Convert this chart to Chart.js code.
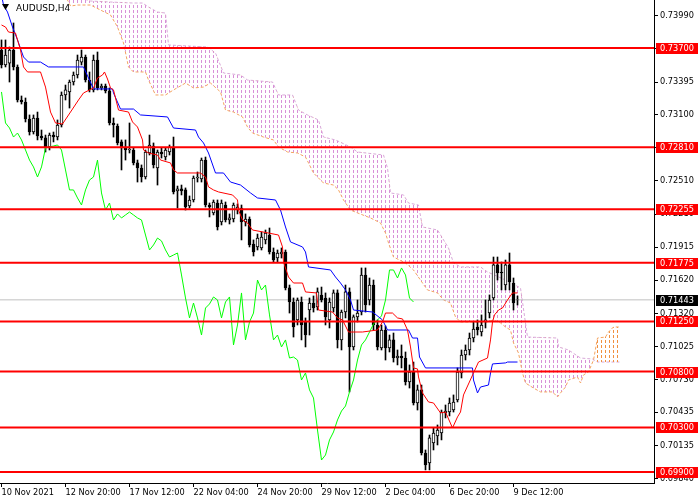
<!DOCTYPE html>
<html><head><meta charset="utf-8">
<script src="https://cdn.jsdelivr.net/npm/chart.js@4.4.1/dist/chart.umd.min.js"></script>
<style>html,body{margin:0;padding:0;background:#fff}canvas{display:block}</style>
</head><body>
<canvas id="c" width="700" height="500" style="width:700px;height:500px"></canvas>
<script>
// ---- data (AUDUSD H4) ----
const symbolTitle = "AUDUSD,H4";
const xTickIdx = [0,16,32,48,64,80,96,112,128];
const xTickLabels = ["10 Nov 2021","12 Nov 20:00","17 Nov 12:00","22 Nov 04:00","24 Nov 20:00","29 Nov 12:00","2 Dec 04:00","6 Dec 20:00","9 Dec 12:00"];
const yTicks = [0.73990,0.73695,0.73395,0.73100,0.72805,0.72510,0.72210,0.71915,0.71620,0.71320,0.71025,0.70730,0.70435,0.70135,0.69840];
const levels = [0.73700,0.72810,0.72255,0.71775,0.71250,0.70800,0.70300,0.69900];
const bidPrice = 0.71443;

const opens = [.73682,.73548,.73565,.73682,.73530,.73234,.73216,.73064,.72947,.73073,
.72911,.72894,.72813,.72920,.72902,.73010,.73279,.73306,.73395,.73458,
.73574,.73619,.73413,.73324,.73592,.73342,.73359,.73315,.73028,.73001,
.72858,.72804,.72786,.72786,.72670,.72625,.72544,.72759,.72822,.72625,
.72768,.72723,.72768,.72804,.72419,.72437,.72428,.72284,.72338,.72535,
.72526,.72696,.72293,.72222,.72311,.72141,.72293,.72159,.72168,.72248,
.72266,.72141,.72168,.71944,.71917,.71908,.71980,.72024,.71872,.71818,
.71854,.71872,.71550,.71424,.71263,.71424,.71245,.71352,.71415,.71379,
.71487,.71460,.71263,.71370,.71505,.71084,.71334,.71514,.71021,.71290,
.71334,.71666,.71442,.71576,.71218,.71012,.71173,.71012,.71084,.70922,
.70940,.70922,.70707,.70797,.70519,.70636,.70071,.69981,.70161,.70224,
.70250,.70430,.70438,.70456,.70546,.70788,.70949,.70994,.71101,.71200,
.71155,.71245,.71325,.71460,.71756,.71693,.71576,.71756,.71594,.71442];
const highs = [.73772,.73772,.73709,.73924,.73548,.73270,.73252,.73100,.73100,.73126,
.72965,.72920,.72938,.72947,.73055,.73306,.73368,.73413,.73485,.73637,
.73682,.73637,.73485,.73637,.73664,.73377,.73377,.73342,.73073,.73019,
.72876,.72876,.73028,.72804,.72696,.72652,.72786,.72920,.72849,.72786,
.72804,.72804,.72831,.72902,.72463,.72472,.72446,.72374,.72553,.72589,
.72714,.72723,.72311,.72338,.72338,.72338,.72320,.72213,.72311,.72302,
.72293,.72213,.72186,.71980,.72033,.72051,.72069,.72087,.71908,.71890,
.71908,.71890,.71576,.71460,.71460,.71469,.71281,.71460,.71478,.71550,
.71558,.71505,.71460,.71532,.71532,.71352,.71576,.71550,.71308,.71442,
.71729,.71729,.71639,.71621,.71263,.71218,.71209,.71128,.71146,.70994,
.71039,.70976,.70860,.70886,.70680,.70680,.70098,.70232,.70295,.70322,
.70456,.70501,.70564,.70591,.70833,.70994,.71039,.71146,.71245,.71263,
.71308,.71442,.71487,.71827,.71827,.71782,.71800,.71863,.71639,.71478];
const lows = [.73521,.73530,.73395,.73503,.73216,.73198,.73037,.72920,.72929,.72876,
.72876,.72768,.72786,.72858,.72876,.72992,.73234,.73162,.73368,.73431,
.73548,.73395,.73306,.73306,.73324,.73324,.73297,.73010,.72902,.72831,
.72607,.72696,.72759,.72652,.72499,.72499,.72526,.72741,.72625,.72472,
.72714,.72696,.72741,.72392,.72266,.72383,.72248,.72266,.72320,.72499,
.72499,.72275,.72186,.72204,.72069,.72114,.72141,.72123,.72141,.72213,
.71980,.72105,.71917,.71836,.71890,.71890,.71944,.71854,.71782,.71782,
.71818,.71532,.71325,.71110,.71218,.71084,.71021,.71128,.71334,.71352,
.71424,.71218,.71191,.71334,.71012,.70994,.71281,.70618,.70994,.71245,
.71308,.71334,.71397,.71173,.70994,.70994,.70904,.70976,.70886,.70860,
.70833,.70680,.70653,.70501,.70456,.70053,.69919,.69919,.70098,.70143,
.70188,.70385,.70403,.70438,.70528,.70743,.70904,.70949,.71066,.71128,
.71119,.71191,.71281,.71442,.71621,.71532,.71532,.71532,.71352,.71397];
const closes = [.73548,.73637,.73682,.73530,.73234,.73216,.73064,.72947,.73073,.72911,
.72894,.72813,.72920,.72902,.73010,.73279,.73324,.73395,.73458,.73592,
.73619,.73413,.73324,.73592,.73342,.73359,.73315,.73028,.73010,.72849,
.72804,.72786,.72795,.72670,.72625,.72544,.72768,.72831,.72652,.72768,
.72750,.72786,.72813,.72410,.72437,.72419,.72275,.72338,.72535,.72544,
.72696,.72293,.72275,.72320,.72096,.72311,.72159,.72177,.72293,.72275,
.72141,.72168,.71935,.71872,.71997,.72006,.72042,.71872,.71800,.71863,
.71872,.71550,.71424,.71200,.71442,.71218,.71128,.71415,.71370,.71514,
.71442,.71290,.71424,.71505,.71084,.71334,.71514,.71021,.71290,.71325,
.71666,.71397,.71576,.71218,.71021,.71173,.71012,.71084,.70922,.70940,
.70922,.70707,.70797,.70519,.70636,.70071,.69964,.70206,.70250,.70277,
.70438,.70447,.70519,.70528,.70797,.70949,.70994,.71101,.71182,.71173,
.71218,.71263,.71442,.71756,.71684,.71684,.71756,.71603,.71415,.71443];

// Tenkan-sen (red) vertices: bar position / price
const tenkanX = [0,1,1.75,3.5,4.75,5.5,6.5,9.75,11,12.25,13.5,15.25,17.25,19.25,20.5,23,24,25.25,25.75,26.5,
27.25,28,29.25,31.75,32.75,34,35.25,35.5,36.75,39,39.75,42.25,43,44,49.75,51,51.75,53,54.25,57.75,
59,59.25,60.25,61.5,62.75,66.75,69.25,70.25,70.5,71.75,73,75.25,76,78.75,79.25,82.75,84,85.25,86.75,90.25,
94,95.25,96,97.75,99,100.25,101.5,102.25,103,104,104.25,105.25,106.75,108,109.75,111,112.75,114,114.75,115.5,
118,119.25,121.5,122.25,122.75,123.25,124.25,125.25,126.5,127.75,129];
const tenkanY = [.73906,.73888,.73843,.73834,.73682,.73530,.73485,.73485,.73350,.73126,
.73028,.73019,.73126,.73234,.73297,.73342,.73431,.73458,.73485,.73422,
.73342,.73324,.73144,.73126,.73037,.72992,.72876,.72786,.72759,.72741,
.72696,.72670,.72607,.72580,.72580,.72544,.72455,.72428,.72410,.72383,
.72338,.72248,.72159,.72132,.72069,.72042,.72024,.71917,.71782,.71648,
.71594,.71594,.71514,.71505,.71352,.71334,.71281,.71263,.71155,.71155,
.71173,.71245,.71325,.71325,.71281,.71272,.71173,.71021,.70833,.70824,
.70752,.70609,.70528,.70519,.70430,.70438,.70295,.70394,.70438,.70591,
.70788,.70886,.70922,.71084,.71245,.71308,.71352,.71370,.71442,.71505,.71505];

// Kijun-sen (blue) vertices
const kijunX = [0,0.5,1.5,2.75,4,5.5,6.75,9.75,11.75,20.5,21.75,23,27.75,28,29.75,33,34.75,41.5,43,48.5,
49.25,50.5,51.75,53.5,55.5,57.25,59.75,62.25,64,68.5,69.75,71,72.25,75.25,76,76.75,82.25,83.5,84.75,86,
87.25,88,92.75,95.25,96.5,101.75,102.75,104,104.5,106,117.75,118,119,119.75,121.75,122.25,122.75,126,126.5,129];
const kijunY = [.74175,.74085,.74022,.73888,.73772,.73619,.73574,.73574,.73530,.73530,
.73431,.73333,.73333,.73297,.73153,.73153,.73100,.73082,.72983,.72965,
.72902,.72849,.72759,.72580,.72580,.72499,.72472,.72401,.72356,.72338,
.72248,.72096,.71962,.71917,.71872,.71738,.71711,.71648,.71594,.71532,
.71442,.71352,.71334,.71263,.71173,.71173,.71101,.71101,.70931,.70833,
.70833,.70725,.70609,.70662,.70680,.70788,.70869,.70878,.70886,.70886];

// Chikou span (lime), one value per bar from bar 0
const chikou = [.73306,.73028,.72983,.72902,.72938,.72876,.72786,.72696,.72634,.72544,
.72634,.72804,.72813,.72822,.72831,.72786,.72607,.72428,.72428,.72356,
.72293,.72428,.72517,.72544,.72696,.72401,.72248,.72311,.72159,.72213,
.72177,.72204,.72230,.72204,.72177,.72159,.72024,.71890,.71935,.71997,
.71971,.71890,.71827,.71845,.71863,.71666,.71460,.71281,.71415,.71281,
.71128,.71370,.71406,.71469,.71442,.71281,.71424,.71469,.71039,.71218,
.71505,.71084,.71245,.71325,.71621,.71532,.71576,.71308,.71084,.71128,
.71021,.71084,.70922,.70931,.70904,.70725,.70788,.70636,.70564,.70277,
.70008,.70053,.70188,.70259,.70367,.70447,.70492,.70618,.70725,.70904,
.71039,.71084,.71155,.71227,.71263,.71299,.71442,.71711,.71711,.71639,
.71729,.71666,.71460,.71424];

// Senkou span A (sandy brown) vertices
const spanAX = [15.25,17.25,19,22.25,24.75,27.25,29,30.5,31.75,33,36,36.75,38.5,41,43,46,48,50.5,52.25,54.75,
56,58,60.25,61.5,62.75,65.5,68,69.25,71.5,74,76,76.75,78,80.5,83,84.25,85.5,87.25,89,92.25,
94.75,96,96.75,98,101,103,105.25,106.5,109,110.5,112.25,113.5,114.75,118,120.5,123,124.75,126,127.25,128,
129.25,130.25,131,133,134.75,137.75,139,139.75,141,141.75,144,144.75,145.5,146.75,148,149,151,151.75,153,154.75];
const spanAY = [.74220,.74076,.74085,.74085,.74040,.73996,.73888,.73745,.73530,.73485,
.73485,.73413,.73279,.73279,.73324,.73386,.73342,.73350,.73386,.73306,
.73144,.73126,.73082,.72992,.72938,.72902,.72876,.72813,.72768,.72759,
.72723,.72670,.72580,.72490,.72472,.72428,.72338,.72248,.72222,.72177,
.72132,.72042,.71953,.71827,.71774,.71711,.71594,.71532,.71505,.71442,
.71415,.71290,.71245,.71245,.71236,.71263,.71236,.71200,.71173,.71057,
.70967,.70788,.70698,.70653,.70618,.70618,.70573,.70609,.70662,.70725,
.70752,.70698,.70770,.70797,.70904,.71101,.71110,.71155,.71200,.71200];

// Senkou span B (thistle) vertices
const spanBX = [15.25,19.75,22.25,27.25,32.75,35.25,36.75,39,41,41.75,51.5,53.5,55.5,59.75,61.5,67.75,69.25,72.75,74.25,76.5,
79.25,80.5,83.5,87.25,89,95.5,96.5,97.25,100.5,101.75,104.25,105.25,109,111.75,113,114.75,119.75,121.5,126,129.75,
131.5,139,139.25,141.75,144.75,147.75,149,154.75];
const spanBY = [.74309,.74148,.74121,.74112,.74103,.74103,.74067,.74022,.74013,.73727,
.73709,.73655,.73476,.73458,.73413,.73395,.73279,.73279,.73144,.73100,
.73055,.72902,.72876,.72813,.72768,.72741,.72625,.72401,.72383,.72311,
.72293,.72096,.72069,.71908,.71774,.71738,.71738,.71693,.71621,.71550,
.71110,.71101,.71021,.70994,.70922,.70913,.70886,.70886];

// ---- view ----
const X_MIN = -0.375, X_MAX = 163.125;
const Y_MIN = 0.69802, Y_MAX = 0.74130;

function hatch(color){
  const c = document.createElement('canvas'); c.width = 4; c.height = 5;
  const g = c.getContext('2d'); g.fillStyle = color; g.fillRect(1,0,1,3);
  return document.getElementById('c').getContext('2d').createPattern(c,'repeat');
}
const pinkHatch = hatch('#d890d8');
const orangeHatch = hatch('#f09040');

const pts = (xs, ys) => xs.map((x,k)=>({x, y: ys[k]}));
const idx = opens.map((_,i)=>i);
const FONT = 'DejaVu Sans';

const datasets = [
  {type:'line', label:'spanB', data: pts(spanBX, spanBY), borderColor:'#d8a8d8', borderWidth:1, borderDash:[3,2], pointRadius:0, fill:false, order:10},
  {type:'line', label:'spanA', data: pts(spanAX, spanAY), borderColor:'#f4a460', borderWidth:1, borderDash:[3,2], pointRadius:0,
    fill:{target:0, above: orangeHatch, below: pinkHatch}, order:9},
  {type:'line', label:'bid', data:[{x:X_MIN,y:bidPrice},{x:X_MAX,y:bidPrice}], borderColor:'#c0c0c0', borderWidth:1, pointRadius:0, fill:false, order:8},
  {type:'bar', label:'wick', data: idx.map(i=>({x:i, y:[lows[i], highs[i]]})), backgroundColor:'#000', borderWidth:0, barThickness:1, grouped:false, order:7},
  {type:'bar', label:'body', data: idx.map(i=>({x:i, y:[opens[i], closes[i]]})),
    backgroundColor: idx.map(i=> closes[i] >= opens[i] ? '#ffffff' : '#000000'),
    borderColor:'#000', borderWidth:1, borderSkipped:false, barThickness:3, grouped:false, order:6},
  {type:'line', label:'chikou', data: chikou.map((v,j)=>({x:j, y:v})), borderColor:'#00ff00', borderWidth:1, pointRadius:0, fill:false, order:5},
  {type:'line', label:'kijun', data: pts(kijunX, kijunY), borderColor:'#0000ff', borderWidth:1, pointRadius:0, fill:false, order:4},
  {type:'line', label:'tenkan', data: pts(tenkanX, tenkanY), borderColor:'#ff0000', borderWidth:1, pointRadius:0, fill:false, order:3}
];
levels.forEach(v=>datasets.push({type:'line', label:'lvl', data:[{x:X_MIN,y:v},{x:X_MAX,y:v}], borderColor:'#ff0000', borderWidth:2, pointRadius:0, fill:false, order:1}));

const overlay = {
  id:'overlay',
  afterDraw(chart){
    const ctx = chart.ctx, ys = chart.scales.y, area = chart.chartArea;
    ctx.save();
    ctx.font = '8.2px "' + FONT + '"';
    ctx.textBaseline = 'middle';
    ctx.textAlign = 'left';
    const boxL = ys.left + 2, boxW = ys.width - 4, txtX = ys.left + 6;
    levels.forEach(v=>{
      const py = Math.round(ys.getPixelForValue(v));
      ctx.fillStyle = '#ff0000'; ctx.fillRect(boxL, py-5, boxW, 11);
      ctx.fillStyle = '#ffffff'; ctx.fillText(v.toFixed(5), txtX, py+0.5);
    });
    const pb = Math.round(ys.getPixelForValue(bidPrice));
    ctx.fillStyle = '#000000'; ctx.fillRect(boxL, pb-5, boxW, 11);
    ctx.fillStyle = '#ffffff'; ctx.fillText(bidPrice.toFixed(5), txtX, pb+0.5);
    // title
    ctx.fillStyle = '#000';
    ctx.beginPath();
    ctx.moveTo(area.left+2, area.top+4); ctx.lineTo(area.left+9, area.top+4); ctx.lineTo(area.left+5.5, area.top+10); ctx.closePath(); ctx.fill();
    ctx.font = '9px "' + FONT + '"';
    ctx.fillText(symbolTitle, area.left+16, area.top+9);
    ctx.restore();
  }
};

new Chart(document.getElementById('c'), {
  type:'line',
  data:{datasets},
  options:{
    responsive:false, animation:false, devicePixelRatio:1, events:[],
    layout:{padding:0},
    plugins:{legend:{display:false}, tooltip:{enabled:false}},
    scales:{
      x:{type:'linear', min:X_MIN, max:X_MAX, offset:false,
        afterBuildTicks: s => { s.ticks = xTickIdx.map(v=>({value:v})); },
        afterFit: s => { s.height = 17; s.paddingLeft = 0; s.paddingRight = 0; },
        grid:{drawOnChartArea:false, drawTicks:true, tickLength:4, color:'#000', offset:false},
        border:{display:true, color:'#000', width:1},
        ticks:{autoSkip:false, maxRotation:0, minRotation:0, align:'start', padding:1, color:'#000',
          font:{family:FONT, size:8.2},
          callback: v => { const k = xTickIdx.indexOf(v); return k >= 0 ? xTickLabels[k] : ''; }}
      },
      y:{type:'linear', position:'right', min:Y_MIN, max:Y_MAX,
        afterBuildTicks: s => { s.ticks = yTicks.map(v=>({value:v})); },
        afterFit: s => { s.width = 46; s.paddingTop = 0; s.paddingBottom = 0; },
        grid:{drawOnChartArea:false, drawTicks:true, tickLength:4, color:'#000'},
        border:{display:true, color:'#000', width:1},
        ticks:{autoSkip:false, padding:2, color:'#000', font:{family:FONT, size:8.2},
          callback: v => Number(v).toFixed(5)}
      }
    }
  },
  plugins:[overlay]
});
</script>
</body></html>
